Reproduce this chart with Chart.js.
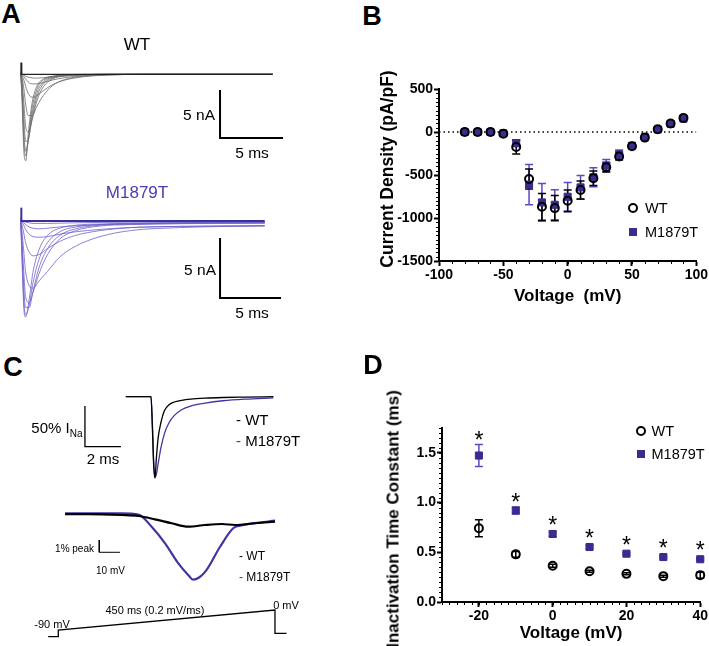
<!DOCTYPE html>
<html>
<head>
<meta charset="utf-8">
<script src="https://cdn.jsdelivr.net/npm/chart.js@4.4.1/dist/chart.umd.min.js"></script>
<style>
  body { margin: 0; width: 709px; height: 646px; overflow: hidden; position: relative; background: #fff;
         font-family: "Liberation Sans", Arial, sans-serif; }
  canvas { position: absolute; }
  .t { position: absolute; white-space: nowrap; line-height: 1; color: #000; }
  .sym { position: absolute; box-sizing: border-box; }
</style>
</head>
<body>
<script>
// --- A: current families (time ms, current nA) ---
const sweepTimesWT = [0, 0.1, 0.25, 0.4, 0.6, 0.9, 1.3, 1.8, 2.5, 3.5, 5, 7, 10, 20];
const wtSweeps = [
  [0, -2.5, -8.0, -9.0, -6.2, -3.0, -1.2, -0.5, -0.2, -0.07, 0, 0, 0, 0],
  [0, -2.0, -7.0, -8.5, -6.8, -3.6, -1.5, -0.6, -0.25, -0.08, -0.02, 0, 0, 0],
  [0, -1.5, -6.0, -8.0, -7.0, -4.2, -1.9, -0.8, -0.3, -0.1, -0.03, 0, 0, 0],
  [0, -1.0, -4.5, -7.0, -6.8, -4.6, -2.3, -1.0, -0.4, -0.13, -0.04, 0, 0, 0],
  [0, -0.6, -3.0, -5.5, -6.0, -4.8, -2.7, -1.3, -0.5, -0.17, -0.05, 0, 0, 0],
  [0, -0.3, -1.5, -3.2, -4.3, -4.3, -3.3, -2.2, -1.2, -0.55, -0.2, -0.05, 0, 0],
  [0, -0.15, -0.6, -1.3, -2.0, -2.4, -2.2, -1.7, -1.1, -0.6, -0.25, -0.07, 0, 0],
  [0, -0.05, -0.25, -0.5, -0.8, -1.0, -1.0, -0.85, -0.6, -0.35, -0.15, -0.05, 0, 0],
  [0, 0, -0.1, -0.2, -0.3, -0.38, -0.4, -0.35, -0.28, -0.18, -0.08, -0.02, 0, 0]
];
const sweepTimesM = [0, 0.1, 0.25, 0.4, 0.7, 1.0, 1.5, 2.2, 3.2, 4.5, 6.5, 9, 13, 20];
const mSweeps = [
  [0, -3.0, -7.2, -8.0, -6.5, -4.3, -2.4, -1.2, -0.6, -0.35, -0.25, -0.2, -0.15, -0.1],
  [0, -2.5, -6.5, -7.8, -7.0, -5.2, -3.2, -1.8, -0.9, -0.5, -0.3, -0.22, -0.15, -0.1],
  [0, -2.0, -5.5, -7.2, -7.2, -5.9, -3.9, -2.3, -1.2, -0.65, -0.35, -0.25, -0.18, -0.12],
  [0, -1.5, -4.2, -6.3, -6.8, -6.0, -4.4, -2.8, -1.5, -0.8, -0.42, -0.3, -0.22, -0.15],
  [0, -0.8, -2.5, -4.2, -5.4, -5.6, -5.0, -4.2, -3.0, -2.1, -1.3, -0.8, -0.55, -0.4],
  [0, -0.3, -1.0, -1.8, -2.6, -2.9, -2.8, -2.3, -1.7, -1.2, -0.8, -0.55, -0.45, -0.4],
  [0, -0.1, -0.35, -0.7, -1.1, -1.3, -1.35, -1.3, -1.1, -0.9, -0.7, -0.55, -0.45, -0.4],
  [0, -0.05, -0.15, -0.3, -0.5, -0.6, -0.65, -0.6, -0.5, -0.4, -0.3, -0.25, -0.22, -0.2],
  [0, 0, -0.05, -0.1, -0.15, -0.2, -0.2, -0.2, -0.18, -0.15, -0.12, -0.1, -0.1, -0.1]
];
const baselineT = [0, 20];
const baselineI = [0, 0];
const artifactT = [0, 0.03, 0.08];
const artifactWT = [0, 1.2, 0];
const artifactM = [0, 1.1, 0];

// --- B: I-V relation ---
const ivVoltage = [-80, -70, -60, -50, -40, -30, -20, -10, 0, 10, 20, 30, 40, 50, 60, 70, 80, 90];
const ivWT      = [0, 0, 0, -20, -175, -546, -870, -885, -800, -675, -538, -410, -285, -165, -65, 32, 98, 164];
const ivWTsem   = [5, 5, 5, 10, 80, 117, 156, 147, 127, 105, 85, 55, 40, 25, 15, 10, 10, 10];
const ivM       = [0, 0, 0, -15, -129, -612, -819, -846, -753, -644, -527, -390, -260, -160, -60, 30, 95, 155];
const ivMsem    = [5, 5, 5, 10, 40, 235, 220, 175, 165, 137, 110, 70, 50, 25, 15, 10, 10, 10];
const ivTicksX = [-100, -50, 0, 50, 100];
const ivTicksY = [-1500, -1000, -500, 0, 500];

// --- C: normalised currents (time ms, % INa) ---
const normTimes = [-1.4, 0, 0.08, 0.15, 0.22, 0.3, 0.4, 0.55, 0.75, 1.0, 1.3, 1.7, 2.2, 3.0, 4.0, 5.2, 6.8];
const normWT    = [0, 0, -40, -85, -100, -75, -50, -32, -17, -10, -6.5, -4.5, -3, -1.8, -1.0, -0.5, 0];
const normM     = [0, 0, -35, -80, -99, -95, -82, -63, -45, -32, -23, -16, -11.5, -8, -5, -3, -1.5];

// ramp currents (voltage mV, % peak)
const rampVWT = [-101.4, -90.2, -74.1, -66.0, -58.0, -49.9, -41.9, -33.8, -25.7, -19.3, -9.7, 0];
const rampWT  = [-0.06, -0.06, -0.14, -0.22, -0.49, -0.81, -1.09, -0.95, -0.87, -0.95, -0.81, -0.68];
const rampVM  = [-101.4, -74.1, -66.0, -59.6, -53.1, -46.7, -41.5, -39.6, -36.5, -33.3, -26.6, -20.2, -16.9, -9.7, 0];
const rampM   = [0, 0, -0.1, -1.09, -2.44, -4.07, -5.1, -5.4, -5.2, -4.66, -2.74, -1.22, -1.0, -0.8, -0.6];

// voltage protocol (ms, mV)
const protoT = [-21, 0, 0, 450, 450, 474];
const protoV = [-120, -120, -90, 0, -105, -105];

// --- D: inactivation time constants ---
const tauVoltage = [-20, -10, 0, 10, 20, 30, 40];
const tauWT      = [0.742, 0.479, 0.364, 0.31, 0.283, 0.26, 0.27];
const tauWTsem   = [0.085, 0.03, 0.015, 0.01, 0.01, 0.01, 0.03];
const tauM       = [1.473, 0.92, 0.684, 0.553, 0.486, 0.452, 0.43];
const tauMsem    = [0.11, 0.035, 0.025, 0.015, 0.012, 0.01, 0.01];
const tauSignificant = [true, true, true, true, true, true, true];
const tauTicksX = [-20, 0, 20, 40];
const tauTicksY = [0, 0.5, 1.0, 1.5];

const FONT = '"Liberation Sans", Arial, sans-serif';
const BLUE = '#3a2b8e';
const BLUE_TRACE = '#6d62c8';
Chart.defaults.font.family = FONT;
Chart.defaults.color = '#000';

// ---------- helpers ----------
function addCanvas(box) {
  const c = document.createElement('canvas');
  c.width = box[2]; c.height = box[3];
  Object.assign(c.style, { left: box[0] + 'px', top: box[1] + 'px', width: box[2] + 'px', height: box[3] + 'px' });
  document.body.appendChild(c);
  return c;
}
function xy(xs, ys) { return xs.map((x, i) => ({ x, y: ys[i] })); }
function trace(xs, ys, color, width, smooth = true) {
  return { data: xy(xs, ys), borderColor: color, borderWidth: width, pointRadius: 0, fill: false, clip: false,
           tension: 0, cubicInterpolationMode: smooth ? 'monotone' : 'default' };
}
function scaleBar(corner, dx, dy, width) {
  const [x0, y0] = corner;
  return { data: [{ x: x0, y: y0 + dy }, { x: x0, y: y0 }, { x: x0 + dx, y: y0 }], borderColor: '#000',
           borderWidth: width, pointRadius: 0, clip: false, tension: 0, borderJoinStyle: 'miter' };
}
// chart with hidden axes; map = [x0px, px per x unit, y0px, px per y unit] in page pixels
function traceChart(box, map, datasets) {
  const [x0, kx, y0, ky] = map;
  return new Chart(addCanvas(box), {
    type: 'line',
    data: { datasets },
    options: {
      responsive: false, animation: false, events: [],
      layout: { padding: 0 },
      plugins: { legend: { display: false }, tooltip: { enabled: false } },
      scales: {
        x: { type: 'linear', display: false, min: (box[0] - x0) / kx, max: (box[0] + box[2] - x0) / kx },
        y: { type: 'linear', display: false, min: (y0 - box[1] - box[3]) / ky, max: (y0 - box[1]) / ky }
      }
    }
  });
}
function text(str, x, y, o = {}) {
  const d = document.createElement('div');
  d.className = 't';
  d.innerHTML = str;
  d.style.left = x + 'px'; d.style.top = y + 'px';
  d.style.fontSize = (o.size || 14) + 'px';
  if (o.bold) d.style.fontWeight = 'bold';
  if (o.color) d.style.color = o.color;
  const ax = o.anchor === 'right' ? '-100%' : o.anchor === 'left' ? '0' : '-50%';
  d.style.transform = `translate(${ax},-50%)` + (o.rotate ? ' rotate(-90deg)' : '');
  document.body.appendChild(d);
}
function symbol(kind, x, y) {
  const d = document.createElement('div');
  d.className = 'sym';
  if (kind === 'circle') {
    Object.assign(d.style, { width: '10px', height: '10px', border: '2px solid #000', borderRadius: '50%', left: (x - 5) + 'px', top: (y - 5) + 'px' });
  } else {
    Object.assign(d.style, { width: '8px', height: '8px', background: BLUE, left: (x - 4) + 'px', top: (y - 4) + 'px' });
  }
  document.body.appendChild(d);
}

// error bars + asterisks + minor ticks, all through the chart scales
const errorBars = {
  id: 'errorBars',
  beforeDatasetsDraw(chart) {
    const { ctx, scales: { x, y } } = chart;
    [...chart.data.datasets].reverse().forEach(ds => {
      if (!ds.errors) return;
      ctx.save();
      ctx.strokeStyle = ds.errorColor; ctx.lineWidth = 1.5;
      ds.data.forEach((p, i) => {
        const e = ds.errors[i];
        const px = x.getPixelForValue(p.x), hi = y.getPixelForValue(p.y + e), lo = y.getPixelForValue(p.y - e);
        ctx.beginPath();
        ctx.moveTo(px, hi); ctx.lineTo(px, lo);
        ctx.moveTo(px - 4, hi); ctx.lineTo(px + 4, hi);
        ctx.moveTo(px - 4, lo); ctx.lineTo(px + 4, lo);
        ctx.stroke();
      });
      ctx.restore();
    });
  },
  afterDatasetsDraw(chart) {
    const { ctx, scales: { x, y } } = chart;
    chart.data.datasets.forEach(ds => {
      if (!ds.stars) return;
      ctx.save();
      ctx.fillStyle = '#000'; ctx.font = '23px ' + FONT; ctx.textAlign = 'center'; ctx.textBaseline = 'alphabetic';
      ds.data.forEach((p, i) => {
        if (!ds.stars[i]) return;
        const top = Math.min(y.getPixelForValue(p.y + ds.errors[i]), y.getPixelForValue(p.y) - 4);
        ctx.fillText('*', x.getPixelForValue(p.x), top - 10 + 13);
      });
      ctx.restore();
    });
  }
};
const minorTicks = {
  id: 'minorTicks',
  afterDraw(chart, args, opts) {
    if (!opts.x) return;
    const { ctx, scales: { x, y }, chartArea } = chart;
    ctx.save();
    ctx.strokeStyle = '#000'; ctx.lineWidth = 1;
    ctx.beginPath();
    opts.x.forEach(v => {
      const px = Math.round(x.getPixelForValue(v)) + 0.5;
      ctx.moveTo(px, chartArea.bottom); ctx.lineTo(px, chartArea.bottom + 3);
    });
    opts.y.forEach(v => {
      const py = Math.round(y.getPixelForValue(v)) + 0.5;
      ctx.moveTo(chartArea.left, py); ctx.lineTo(chartArea.left - 3, py);
    });
    ctx.stroke();
    ctx.restore();
  }
};
function steps(a, b, s) { const out = []; for (let v = a; v <= b + 1e-9; v += s) out.push(+v.toFixed(4)); return out; }

function axis(min, max, ticks, fmt, title, titlePad, fitSize, isY) {
  return {
    type: 'linear', min, max,
    afterBuildTicks: s => { s.ticks = ticks.map(v => ({ value: v })); },
    afterFit: s => { if (isY) s.width = fitSize; else s.height = fitSize; },
    ticks: { font: { size: 14, weight: 'bold' }, color: '#000', padding: 1, callback: (v, i) => fmt(ticks[i]) },
    grid: { display: true, drawOnChartArea: false, drawTicks: true, tickLength: 5, tickWidth: 2, tickColor: '#000' },
    border: { display: true, color: '#000', width: 2 },
    title: { display: !!title, text: title, font: { size: 17, weight: 'bold' }, color: '#000', padding: titlePad }
  };
}
function pointSets(xs, wt, wtErr, m, mErr, extra = {}) {
  return [
    { label: 'WT', data: xy(xs, wt), errors: wtErr, errorColor: '#000', pointStyle: 'circle', pointRadius: 4,
      pointBorderWidth: 2, pointBorderColor: '#000', pointBackgroundColor: 'rgba(0,0,0,0)', showLine: false, clip: false },
    Object.assign({ label: 'M1879T', data: xy(xs, m), errors: mErr, errorColor: '#5a4bc0', pointStyle: 'rect', pointRadius: 5,
      pointBorderWidth: 1, pointBorderColor: BLUE, pointBackgroundColor: BLUE, showLine: false, clip: false }, extra)
  ];
}

// ---------- A ----------
traceChart([5, 50, 290, 125], [20.7, 12.6, 74.3, 9.6], [
  trace(artifactT, artifactWT, '#222', 1, false),
  trace(baselineT, baselineI, '#222', 1.3, false),
  ...wtSweeps.map(s => trace(sweepTimesWT, s, '#6b6b6b', 0.8)),
  scaleBar([15.82, -6.64], 5, 5, 2)
]);
traceChart([5, 200, 290, 125], [20.7, 12.2, 221, 12], [
  trace(artifactT, artifactM, '#3b2f98', 1, false),
  trace(baselineT, baselineI, '#3b2f98', 2, false),
  ...mSweeps.map(s => trace(sweepTimesM, s, BLUE_TRACE, 0.8)),
  scaleBar([16.34, -6.42], 5, 5, 2)
]);
text('A', 11, 13.5, { size: 27, bold: true });
text('WT', 137, 44, { size: 17 });
text('5 nA', 215, 115, { size: 15.5, anchor: 'right' });
text('5 ms', 252, 153, { size: 15.5 });
text('M1879T', 137, 192, { size: 17, color: '#4a3cb0' });
text('5 nA', 216, 270, { size: 15.5, anchor: 'right' });
text('5 ms', 252, 312.5, { size: 15.5 });

// ---------- B ----------
new Chart(addCanvas([360, 75, 349, 250]), {
  type: 'scatter',
  data: { datasets: [
    ...pointSets(ivVoltage, ivWT, ivWTsem, ivM, ivMsem),
    { data: [{ x: -100, y: 0 }, { x: 100, y: 0 }], showLine: true, borderColor: '#000', borderWidth: 1.5,
      borderDash: [1.5, 3], pointRadius: 0 }
  ] },
  options: {
    responsive: false, animation: false, events: [],
    layout: { padding: { top: 14, right: 12, left: 0, bottom: 0 } },
    plugins: { legend: { display: false }, tooltip: { enabled: false },
               minorTicks: { x: steps(-100, 100, 10), y: steps(-1500, 500, 50) } },
    scales: {
      x: axis(-100, 100, ivTicksX, v => String(v), 'Voltage  (mV)', { top: 0, bottom: 18 }, 64, false),
      y: axis(-1500, 500, ivTicksY, v => String(v), '', 0, 79, true)
    }
  },
  plugins: [errorBars, minorTicks]
});
text('B', 372, 15.5, { size: 27, bold: true });
text('Current Density (pA/pF)', 388, 169, { size: 17.5, bold: true, rotate: true });
symbol('circle', 633, 208); text('WT', 645, 208, { size: 14.5, anchor: 'left' });
symbol('square', 633, 232); text('M1879T', 645, 232, { size: 14.5, anchor: 'left' });

// ---------- C ----------
traceChart([75, 385, 210, 100], [151, 18, 396.7, 0.814], [
  trace(normTimes, normWT, '#000', 1.3),
  trace(normTimes, normM, '#3f35a0', 1.3),
  scaleBar([-3.67, -61.4], 2, 50, 1.3)
]);
traceChart([55, 500, 230, 90], [275, 2.07, 513.3, 12.3], [
  trace(rampVWT, rampWT, '#000', 2.2),
  trace(rampVM, rampM, '#3f35a0', 2.2),
  scaleBar([-84.9, -3.17], 10, 1, 1)
]);
traceChart([40, 598, 255, 45], [58.3, 0.4815, 610, 0.2222], [
  trace(protoT, protoV, '#000', 1.3, false)
]);
text('C', 13, 367, { size: 27, bold: true });
text('50% I<span style="font-size:10px;position:relative;top:4px">Na</span>', 82.5, 427, { size: 15, anchor: 'right' });
text('2 ms', 103, 457.5, { size: 15 });
text('<span style="color:#000">-</span> WT', 236, 418.5, { size: 15, anchor: 'left' });
text('<span style="color:#3f35a0">-</span> M1879T', 236, 440, { size: 15, anchor: 'left' });
text('1% peak', 94, 549, { size: 10, anchor: 'right' });
text('10 mV', 110.5, 570.5, { size: 10 });
text('<span style="color:#000">-</span> WT', 239, 556, { size: 12, anchor: 'left' });
text('<span style="color:#3f35a0">-</span> M1879T', 239, 577, { size: 12, anchor: 'left' });
text('-90 mV', 52, 623.5, { size: 11 });
text('450 ms (0.2 mV/ms)', 155, 610, { size: 11 });
text('0 mV', 286, 604.5, { size: 11 });

// ---------- D ----------
new Chart(addCanvas([360, 415, 349, 231]), {
  type: 'scatter',
  data: { datasets: pointSets(tauVoltage, tauWT, tauWTsem, tauM, tauMsem, { stars: tauSignificant }) },
  options: {
    responsive: false, animation: false, events: [],
    layout: { padding: { top: 13, right: 7, left: 0, bottom: 0 } },
    plugins: { legend: { display: false }, tooltip: { enabled: false },
               minorTicks: { x: steps(-30, 40, 2), y: steps(0, 1.75, 0.05) } },
    scales: {
      x: axis(-30, 40, tauTicksX, v => String(v), 'Voltage (mV)', { top: 0, bottom: 2.5 }, 44, false),
      y: axis(0, 1.75, tauTicksY, v => v.toFixed(1), '', 0, 82, true)
    }
  },
  plugins: [errorBars, minorTicks]
});
text('D', 373, 365, { size: 27, bold: true });
text('Inactivation Time Constant (ms)', 393, 519, { size: 17, bold: true, rotate: true });
symbol('circle', 641, 431); text('WT', 651.5, 431, { size: 14.5, anchor: 'left' });
symbol('square', 641, 454); text('M1879T', 651.5, 454, { size: 14.5, anchor: 'left' });
</script>
</body>
</html>
